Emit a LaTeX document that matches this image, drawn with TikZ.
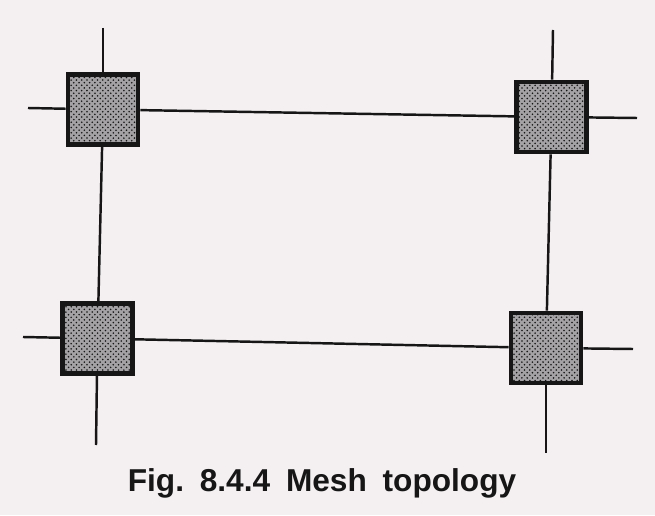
\documentclass[tikz,border=0pt]{standalone}
\usepackage{fontspec}
\usepackage{xcolor}
\usepackage{tikz}
\usetikzlibrary{
  arrows.meta,
  positioning,
  patterns,
  backgrounds
}
\setsansfont{Liberation Sans}
\definecolor{meshInk}{HTML}{161616}
\definecolor{meshPaper}{HTML}{F4F0F2}
\definecolor{meshShade}{HTML}{A4A2A4}
\tikzset{
  station/.style={
    draw=meshInk, line width=2.6pt, minimum size=1.40cm, inner sep=0pt,
    fill=meshShade,
    postaction={pattern=crosshatch dots, pattern color=meshInk}
  },
  meshline/.style={line width=1.4pt, meshInk},
  figcaption/.style={font=\sffamily\bfseries\fontsize{18}{21}\selectfont, text=meshInk, anchor=base}
}

\begin{document}
\begin{tikzpicture}
  \fill[meshPaper] (0,0) rectangle (13.1,10.3);
  \useasboundingbox (0,0) rectangle (13.1,10.3);
  % loose ends of the mesh
  \coordinate (tlN) at (2.06,9.74);
  \coordinate (tlW) at (0.56,8.14);
  \coordinate (trN) at (11.06,9.70);
  \coordinate (trE) at (12.74,7.94);
  \coordinate (blW) at (0.46,3.56);
  \coordinate (blS) at (1.92,1.40);
  \coordinate (brE) at (12.66,3.32);
  \coordinate (brS) at (10.92,1.24);
  \foreach \n/\x/\y in {
    tl/2.06/8.11,
    tr/11.03/7.96,
    bl/1.95/3.53,
    br/10.92/3.34}{
    \node[station] (\n) at (\x,\y) {};
  }
  \draw[meshline] (tlW) -- (tl);
  \draw[meshline] (tlN) -- (tl);
  \draw[meshline] (trN) -- (tr);
  \draw[meshline] (tr) -- (trE);
  \draw[meshline] (blW) -- (bl);
  \draw[meshline] (bl) -- (blS);
  \draw[meshline] (br) -- (brE);
  \draw[meshline] (br) -- (brS);
  \draw[meshline] (tl) -- (tr);
  \draw[meshline] (bl) -- (br);
  \draw[meshline] (tl) -- (bl);
  \draw[meshline] (tr) -- (br);
  \node[figcaption] (cap) at (6.44,0.48) {Fig.\enspace 8.4.4\enspace Mesh\enspace topology};
\end{tikzpicture}
\end{document}
